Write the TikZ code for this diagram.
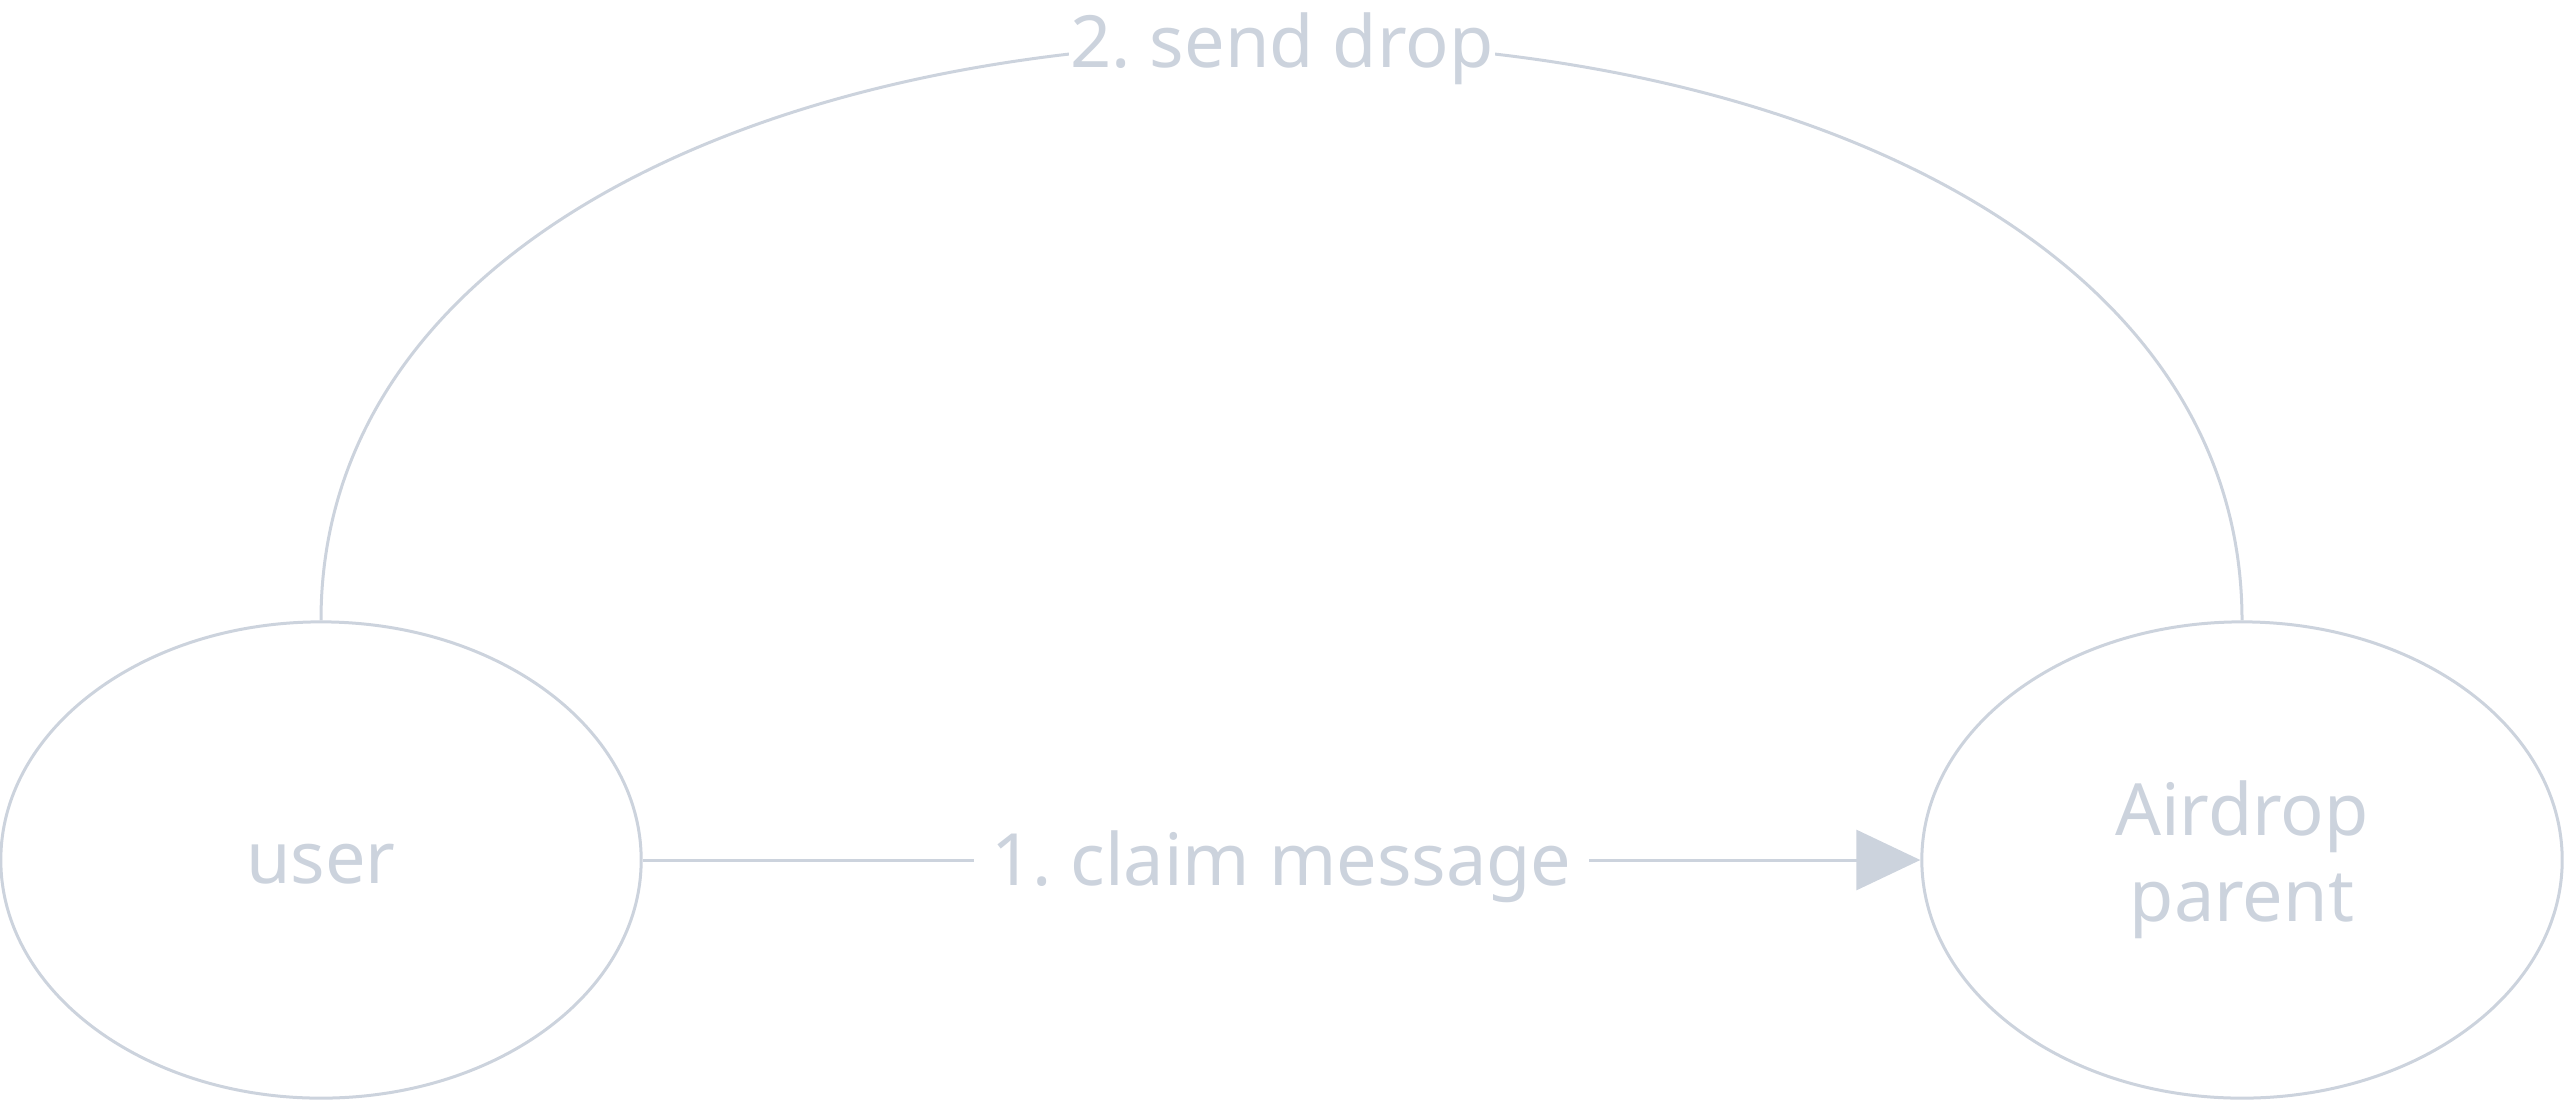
\documentclass[tikz,border=0pt]{standalone}
\usepackage{fontspec}
\setmainfont{Noto Sans}
\frenchspacing
\usetikzlibrary{shapes.geometric,arrows.meta}
\definecolor{edgegray}{RGB}{204,211,221}
\begin{document}
\begin{tikzpicture}[x=0.01cm,y=-0.01cm,
  every node/.style={font=\fontsize{20.5pt}{24.45pt}\selectfont\frenchspacing, text=edgegray},
  entity/.style={ellipse, draw=edgegray, line width=0.03cm, inner sep=0pt,
    minimum width=6.40cm, minimum height=4.76cm, align=center},
  edgelabel/.style={fill=white, inner ysep=2pt, text height=0.51cm, text depth=0cm},
  conn/.style={draw=edgegray, line width=0.03cm}]
\useasboundingbox (0,0) rectangle (2564,1103);
\node[entity, text height=0.51cm, text depth=0.05cm] (user) at (321,860) {user};
\node[entity] (air) at (2242,860) {Airdrop\\parent};
\coordinate (top) at (1282,42);
\draw[conn] (user.north) .. controls (321,250) and (760,42) .. (top)
  .. controls (1804,42) and (2242,250) .. (air.north);
\node[edgelabel, inner xsep=0.02cm] (lbltwo) at (top) {2. send drop};
\draw[conn, -{Triangle[length=0.64cm,width=0.6cm]}] (user.east) --
  node[edgelabel, inner xsep=0.17cm] (lblone) {1. claim message} (air.west);
\end{tikzpicture}
\end{document}
